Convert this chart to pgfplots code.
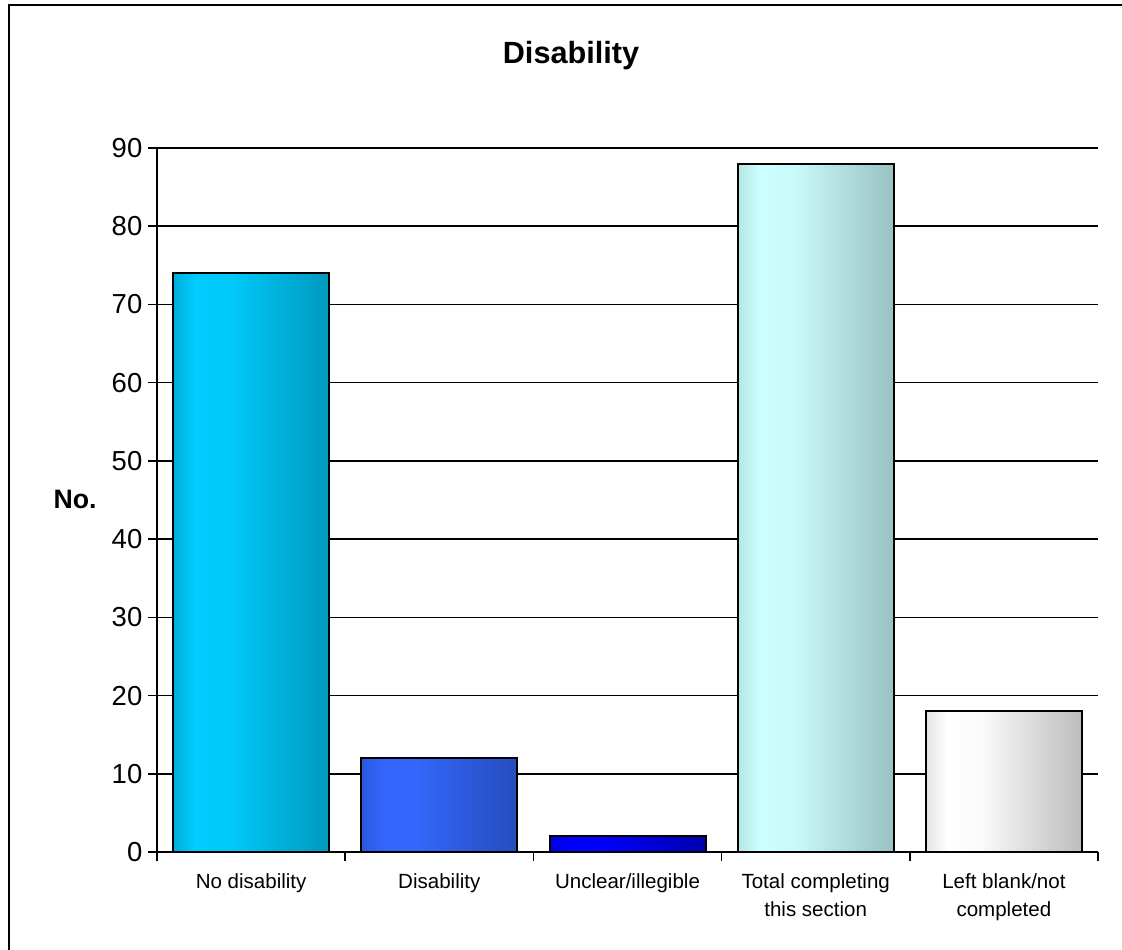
\documentclass[border=0pt]{standalone}
\usepackage{fontspec}
\setmainfont{Liberation Sans}
\usepackage{pgfplots}
\pgfplotsset{compat=1.18}

% Banded left-to-right shadings for the bars (light band near the left edge)
\pgfdeclarehorizontalshading{nodis}{100bp}{rgb(0bp)=(0,.68,.85); rgb(25bp)=(0,.68,.85); rgb(32bp)=(0,.80,1); rgb(43bp)=(0,.79,.98); rgb(75bp)=(0,.60,.74); rgb(100bp)=(0,.60,.74)}
\pgfdeclarehorizontalshading{dis}{100bp}{rgb(0bp)=(.17,.35,.86); rgb(25bp)=(.17,.35,.86); rgb(32bp)=(.2,.4,1); rgb(43bp)=(.2,.4,.98); rgb(75bp)=(.15,.30,.74); rgb(100bp)=(.15,.30,.74)}
\pgfdeclarehorizontalshading{uncl}{100bp}{rgb(0bp)=(0,0,.88); rgb(25bp)=(0,0,.88); rgb(32bp)=(0,0,1); rgb(43bp)=(0,0,.98); rgb(75bp)=(0,0,.68); rgb(100bp)=(0,0,.68)}
\pgfdeclarehorizontalshading{total}{100bp}{rgb(0bp)=(.71,.90,.90); rgb(25bp)=(.71,.90,.90); rgb(32bp)=(.8,1,1); rgb(43bp)=(.79,.98,.98); rgb(75bp)=(.60,.76,.76); rgb(100bp)=(.60,.76,.76)}
\pgfdeclarehorizontalshading{blank}{100bp}{rgb(0bp)=(.89,.89,.89); rgb(25bp)=(.89,.89,.89); rgb(32bp)=(1,1,1); rgb(43bp)=(.98,.98,.98); rgb(75bp)=(.74,.74,.74); rgb(100bp)=(.74,.74,.74)}

\begin{document}
\begin{tikzpicture}
\useasboundingbox (0,0) rectangle (841.5pt,712.5pt);
% chart frame (runs off the page on the right and at the bottom)
\draw[line width=1.5pt] (6.75pt,-20pt) -- (6.75pt,708.75pt) -- (860pt,708.75pt);
\node[anchor=base, font=\fontsize{23}{27}\selectfont\bfseries] at (428.25pt,664.5pt) {Disability};

\begin{axis}[
  at={(117.75pt,73.5pt)}, anchor=south west,
  scale only axis, width=705.75pt, height=528pt,
  xmin=-0.5, xmax=4.5, ymin=0, ymax=90,
  axis lines*=left,
  axis line style={line width=1.1pt, -},
  ytick={0,10,...,90},
  ymajorgrids, grid style={black, line width=1.1pt},
  tick align=outside, tick pos=left,
  major tick length=6.5pt,
  every tick/.style={black, line width=1.1pt},
  /pgf/number format/assume math mode=true,
  yticklabel style={font=\fontsize{20.6}{24}\selectfont, xshift=-1pt},
  xtick={-0.5,0.5,...,4.5}, xticklabels={},
  extra x ticks={0,1,2,3,4},
  extra x tick labels={No disability, Disability, Unclear/illegible, Total completing\\this section, Left blank/not\\completed},
  extra x tick style={major tick length=0pt, tick style={draw=none},
    ticklabel style={align=center, anchor=north, yshift=-13pt,
      font=\fontsize{15.4}{21}\selectfont}},
  ylabel={No.},
  ylabel style={rotate=-90, at={(rel axis cs:-0.087,0.501)}, anchor=center,
    font=\fontsize{20}{24}\selectfont\bfseries},
  clip=false,
]
\addplot[ybar, bar width=117pt, bar shift=0pt, draw=black, line width=1.5pt, shade, shading=nodis] coordinates {(0,74)};
\addplot[ybar, bar width=117pt, bar shift=0pt, draw=black, line width=1.5pt, shade, shading=dis] coordinates {(1,12)};
\addplot[ybar, bar width=117pt, bar shift=0pt, draw=black, line width=1.5pt, shade, shading=uncl] coordinates {(2,2)};
\addplot[ybar, bar width=117pt, bar shift=0pt, draw=black, line width=1.5pt, shade, shading=total] coordinates {(3,88)};
\addplot[ybar, bar width=117pt, bar shift=0pt, draw=black, line width=1.5pt, shade, shading=blank] coordinates {(4,18)};
\end{axis}
\end{tikzpicture}
\end{document}
